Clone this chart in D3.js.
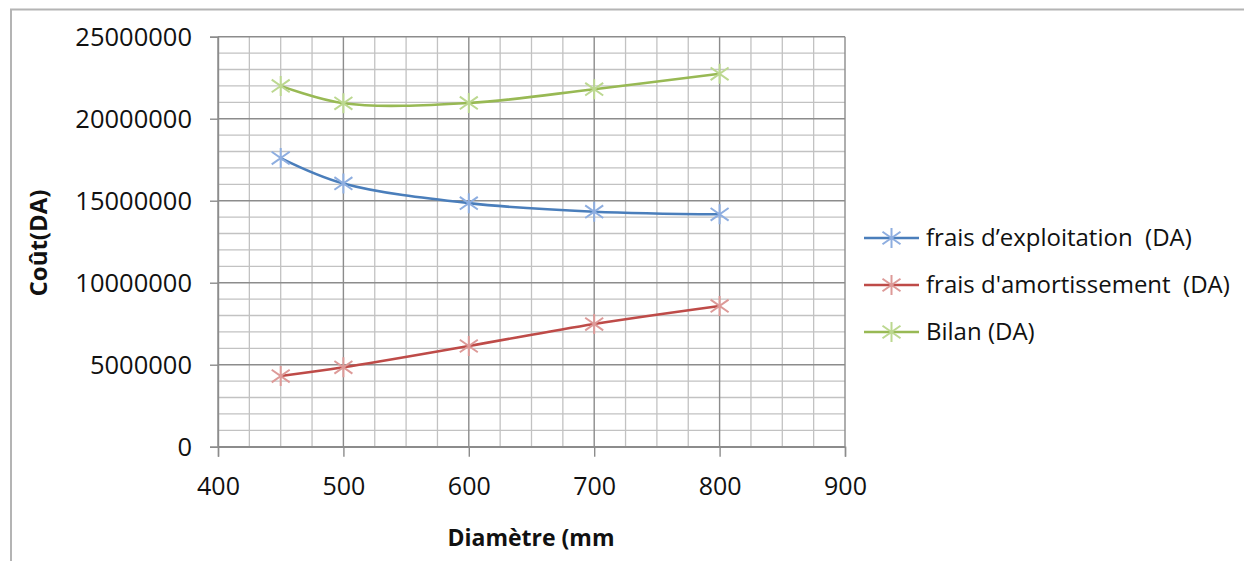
<!DOCTYPE html>
<html>
<head>
<meta charset="utf-8">
<script src="https://cdn.jsdelivr.net/npm/d3@7"></script>
<style>
html,body{margin:0;padding:0;background:#fff;}
svg{display:block;}
text{font-family:"Open Sans",sans-serif;fill:#111;}
</style>
</head>
<body>
<svg id="chart" width="1244" height="561"></svg>
<script>
const diameters = [450, 500, 600, 700, 800];
const exploitation = [17600000, 16050000, 14850000, 14330000, 14170000];
const amortissement = [4310000, 4840000, 6140000, 7480000, 8580000];
const bilan = [22000000, 20940000, 20960000, 21800000, 22740000];
const seriesNames = ["frais d\u2019exploitation  (DA)", "frais d'amortissement  (DA)", "Bilan (DA)"];
const xTicks = [400, 500, 600, 700, 800, 900];
const yTicks = [0, 5000000, 10000000, 15000000, 20000000, 25000000];
const xTitle = "Diamètre (mm";
const yTitle = "Coût(DA)";

const lineColors = ["#4a7ebb", "#be4b48", "#98b954"];
const markerColors = ["#8eaee0", "#dd9a98", "#bcd890"];
const series = [exploitation, amortissement, bilan];

const svg = d3.select("#chart");
const L = 218, R = 845, T = 36.7, B = 446.7;
const x = d3.scaleLinear().domain([400, 900]).range([L, R]);
const y = d3.scaleLinear().domain([0, 25000000]).range([B, T]);

// outer frame
svg.append("rect").attr("x", 11).attr("y", 9.5).attr("width", 1260).attr("height", 600)
  .attr("fill", "none").attr("stroke", "#b4b4b4").attr("stroke-width", 2);

const g = svg.append("g");
const minorX = d3.range(400, 901, 25);
const minorY = d3.range(0, 25000001, 1000000);
g.selectAll("line.mx").data(minorX.filter(v => v % 100 !== 0)).enter().append("line")
  .attr("x1", d => x(d)).attr("x2", d => x(d)).attr("y1", T).attr("y2", B)
  .attr("stroke", "#c2c2c2").attr("stroke-width", 1.3);
g.selectAll("line.my").data(minorY.filter(v => v % 5000000 !== 0)).enter().append("line")
  .attr("y1", d => y(d)).attr("y2", d => y(d)).attr("x1", L).attr("x2", R)
  .attr("stroke", "#c2c2c2").attr("stroke-width", 1.3);
g.selectAll("line.Mx").data(xTicks).enter().append("line")
  .attr("x1", d => x(d)).attr("x2", d => x(d)).attr("y1", T).attr("y2", B)
  .attr("stroke", "#8c8c8c").attr("stroke-width", 1.4);
g.selectAll("line.My").data(yTicks).enter().append("line")
  .attr("y1", d => y(d)).attr("y2", d => y(d)).attr("x1", L).attr("x2", R)
  .attr("stroke", "#8c8c8c").attr("stroke-width", 1.4);

const yAxis = d3.axisLeft(y).tickValues(yTicks).tickSize(8).tickPadding(18).tickFormat(d3.format("d"));
const yg = svg.append("g").attr("transform", `translate(${L},0)`).call(yAxis);
yg.select(".domain").attr("stroke", "#8c8c8c").attr("stroke-width", 1.4);
yg.selectAll(".tick line").attr("stroke", "#8c8c8c").attr("stroke-width", 1.4);
yg.selectAll(".tick text").style("font-size", "25.5px").attr("fill", "#111").attr("dy", "0.36em");

const xAxis = d3.axisBottom(x).tickValues(xTicks).tickSize(10).tickPadding(21).tickFormat(d3.format("d"));
const xg = svg.append("g").attr("transform", `translate(0,${B})`).call(xAxis);
xg.select(".domain").attr("stroke", "#8c8c8c").attr("stroke-width", 1.4);
xg.selectAll(".tick line").attr("stroke", "#8c8c8c").attr("stroke-width", 1.4);
xg.selectAll(".tick text").style("font-size", "25px").attr("fill", "#111");

svg.append("text").attr("x", 531).attr("y", 546).attr("text-anchor", "middle")
  .style("font-size", "23px").style("font-weight", "bold").text(xTitle);
svg.append("text").attr("transform", "translate(47,243) rotate(-90)").attr("text-anchor", "middle")
  .style("font-size", "24px").style("font-weight", "bold").text(yTitle);

const line = d3.line().x(d => x(d[0])).y(d => y(d[1])).curve(d3.curveCatmullRom.alpha(0.5));
function star(sel, cx, cy, color) {
  const r = 10, d = 9;
  sel.append("path")
    .attr("d", `M${cx},${cy - r}L${cx},${cy + r}M${cx - d},${cy - d * 0.7}L${cx + d},${cy + d * 0.7}M${cx - d},${cy + d * 0.7}L${cx + d},${cy - d * 0.7}`)
    .attr("stroke", color).attr("stroke-width", 2).attr("fill", "none");
}
series.forEach((vals, i) => {
  const pts = diameters.map((dv, j) => [dv, vals[j]]);
  svg.append("path").attr("d", line(pts)).attr("fill", "none")
    .attr("stroke", lineColors[i]).attr("stroke-width", 2.6);
  const mg = svg.append("g");
  pts.forEach(p => star(mg, x(p[0]), y(p[1]), markerColors[i]));
});

const legY = [238, 285, 332];
seriesNames.forEach((name, i) => {
  svg.append("line").attr("x1", 864).attr("x2", 919).attr("y1", legY[i]).attr("y2", legY[i])
    .attr("stroke", lineColors[i]).attr("stroke-width", 2.6);
  star(svg, 891.5, legY[i], markerColors[i]);
  svg.append("text").attr("x", 926).attr("y", legY[i]).attr("dy", "0.35em")
    .style("font-size", "24px").style("white-space", "pre").text(name);
});
</script>
</body>
</html>
